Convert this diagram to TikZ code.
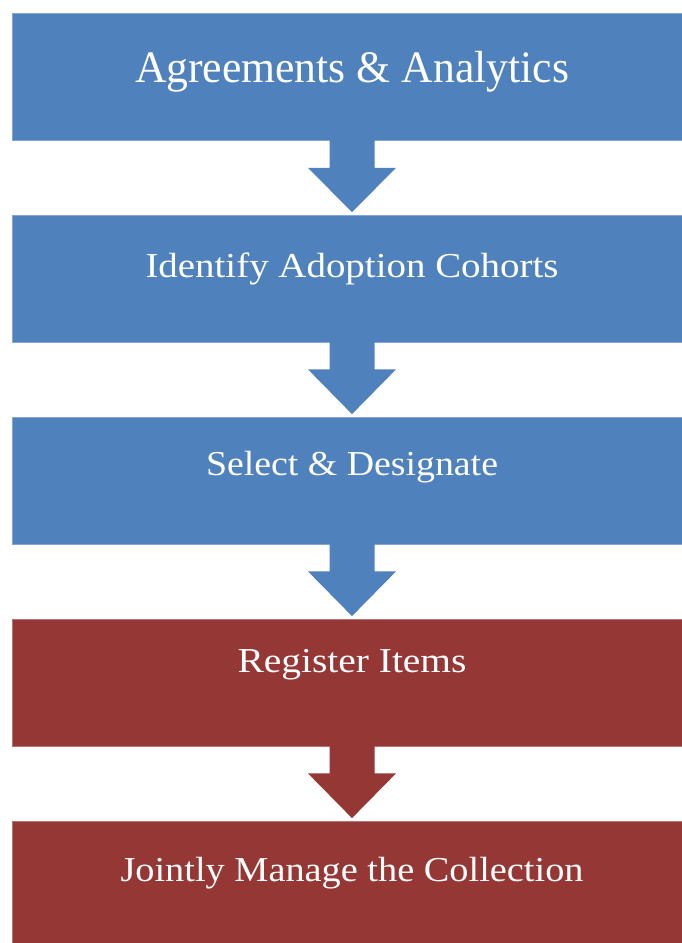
\documentclass[tikz,border=0pt]{standalone}
\usepackage{fontspec}
\setmainfont{Liberation Serif}
\usetikzlibrary{calc}
\definecolor{stepblue}{HTML}{4F81BD}
\definecolor{stepred}{HTML}{953735}
\newsavebox\lblbox
% set a label and stretch it horizontally to a given width (in pt)
\newcommand\fitlabel[2]{\sbox\lblbox{#2}\pgfmathsetmacro\lblfac{#1/\wd\lblbox}\scalebox{\lblfac}[1]{\usebox\lblbox}}
\begin{document}
\begin{tikzpicture}[x=1pt,y=-1pt,
  stepbox/.style={rectangle, minimum width=680pt, minimum height=127pt, inner sep=0pt, line width=0.8pt},
  bluebox/.style={stepbox, fill=stepblue, draw=stepblue!70!white},
  redbox/.style={stepbox, fill=stepred, draw=stepred!70!white},
  steptext/.style={anchor=base, inner sep=0pt, text=white},
  bigfont/.style={font=\fontsize{45}{54}\selectfont},
  midfont/.style={font=\fontsize{35}{42}\selectfont},
  flowarrow/.style={to path={
    ($(\tikztostart)+(-22.5,-1)$) -- ($(\tikztostart)+(-22.5,27)$) --
    ($(\tikztostart)+(-44,27)$) -- ($(\tikztotarget)+(0,-2.5)$) --
    ($(\tikztostart)+(44,27)$) -- ($(\tikztostart)+(22.5,27)$) --
    ($(\tikztostart)+(22.5,-1)$) -- cycle}}
]
\useasboundingbox (0,0) rectangle (682,943);
\clip (0,0) rectangle (682,943);
\fill[white] (0,0) rectangle (682,943);

% the five steps
\node[bluebox] (b1) at (352,77)    {};
\node[bluebox] (b2) at (352,278.5) {};
\node[bluebox] (b3) at (352,480.5) {};
\node[redbox]  (b4) at (352,682.5) {};
\node[redbox]  (b5) at (352,884.5) {};

% step titles
\node[steptext,bigfont] (t1) at (352,82)  {\fitlabel{434}{Agreements \& Analytics}};
\node[steptext,midfont] (t2) at (352,277) {\fitlabel{413}{Identify Adoption Cohorts}};
\node[steptext,midfont] (t3) at (352,475) {\fitlabel{292}{Select \& Designate}};
\node[steptext,midfont] (t4) at (352,672) {\fitlabel{229}{Register Items}};
\node[steptext,midfont] (t5) at (352,881) {\fitlabel{463}{Jointly Manage the Collection}};

% block arrows between the steps
\fill[stepblue] (b1.south) to[flowarrow] (b2.north);
\fill[stepblue] (b2.south) to[flowarrow] (b3.north);
\fill[stepblue] (b3.south) to[flowarrow] (b4.north);
\fill[stepred]  (b4.south) to[flowarrow] (b5.north);
\end{tikzpicture}
\end{document}
